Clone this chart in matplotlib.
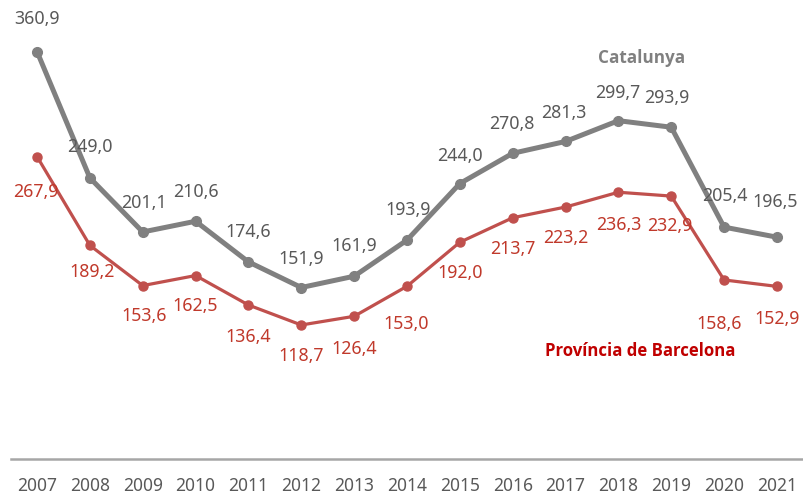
import matplotlib.pyplot as plt
import numpy as np

plt.rcParams['font.family'] = ['Noto Sans', 'DejaVu Sans']

years = ['2007', '2008', '2009', '2010', '2011', '2012', '2013', '2014',
         '2015', '2016', '2017', '2018', '2019', '2020', '2021']
catalunya = [360.9, 249.0, 201.1, 210.6, 174.6, 151.9, 161.9, 193.9,
             244.0, 270.8, 281.3, 299.7, 293.9, 205.4, 196.5]
barcelona = [267.9, 189.2, 153.6, 162.5, 136.4, 118.7, 126.4, 153.0,
             192.0, 213.7, 223.2, 236.3, 232.9, 158.6, 152.9]

# label offsets in pixels (dx, dy)
cat_off = [(0, 33), (0, 31), (1, 29), (0, 29), (0, 30), (0, 29), (0, 30), (1, 30),
           (0, 28), (-1, 29), (-2, 28), (-1, 28), (-4, 29), (1, 31), (-2, 35)]
bcn_off = [(-1, -35), (2, -27), (1, -30), (0, -30), (0, -32), (0, -31), (0, -33), (-1, -38),
           (0, -31), (0, -31), (0, -31), (0, -33), (-1, -30), (-5, -44), (0, -33)]

gray = '#808080'
red = '#C0504D'

fig = plt.figure(figsize=(8.04, 4.94), dpi=100)
ax = fig.add_axes([0.0132, 0.0709, 0.986, 0.914])
x = np.arange(len(years))

ax.plot(x, catalunya, color=gray, lw=3.6, marker='o', ms=7, solid_capstyle='round')
ax.plot(x, barcelona, color=red, lw=2.3, marker='o', ms=6.5, solid_capstyle='round')

for i, v in enumerate(catalunya):
    ax.annotate(f'{v:.1f}'.replace('.', ','), (x[i], v), xytext=cat_off[i],
                textcoords='offset pixels', ha='center', va='center',
                fontsize=12.8, color='#595959')
for i, v in enumerate(barcelona):
    ax.annotate(f'{v:.1f}'.replace('.', ','), (x[i], v), xytext=bcn_off[i],
                textcoords='offset pixels', ha='center', va='center',
                fontsize=12.8, color='#C0392B')

ax.text(11.43, 355, 'Catalunya', ha='center', va='center', fontsize=12.3,
        fontweight='bold', color=gray, family=['Open Sans', 'DejaVu Sans'])
ax.text(11.42, 96, 'Província de Barcelona', ha='center', va='center', fontsize=12.1,
        fontweight='bold', color='#C00000', family=['Open Sans', 'DejaVu Sans'])

ax.set_xlim(-0.5, 14.5)
ax.set_ylim(0, 400)
ax.set_xticks(x)
ax.set_xticklabels(years, fontsize=12.5, color='#595959')
ax.tick_params(axis='x', length=0, pad=13)
ax.set_yticks([])
for s in ['top', 'right', 'left']:
    ax.spines[s].set_visible(False)
ax.spines['bottom'].set_color('#A6A6A6')
ax.spines['bottom'].set_linewidth(1.8)

fig.savefig('out.png', dpi=100)
